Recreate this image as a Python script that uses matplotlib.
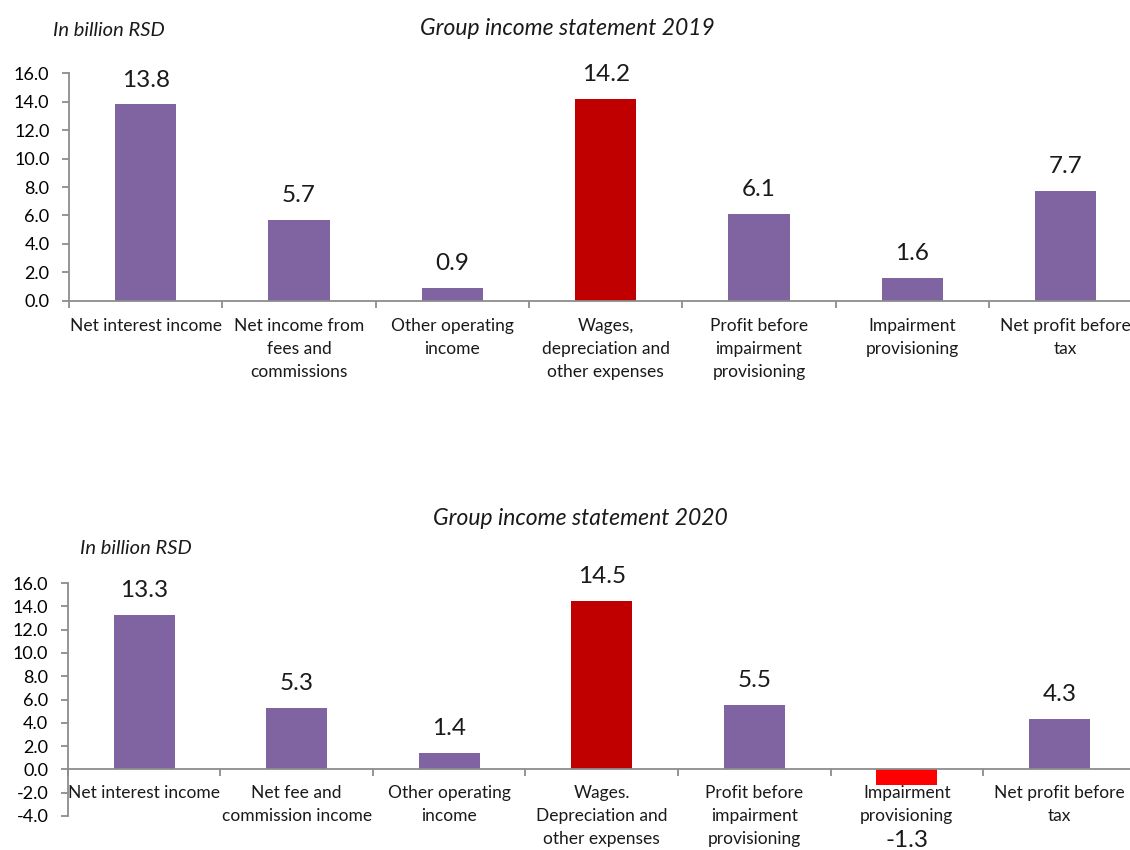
import matplotlib.pyplot as plt

plt.rcParams['font.family'] = ['Lato', 'DejaVu Sans']
plt.rcParams['text.color'] = '#1a1a1a'

PURPLE = '#8064A2'
DARK_RED = '#C00000'
RED = '#FF0000'
GREY = '#8c8c8c'

labels_2019 = ["Net interest income", "Net income from\nfees and\ncommissions",
               "Other operating\nincome", "Wages,\ndepreciation and\nother expenses",
               "Profit before\nimpairment\nprovisioning", "Impairment\nprovisioning",
               "Net profit before\ntax"]
values_2019 = [13.8, 5.7, 0.9, 14.2, 6.1, 1.6, 7.7]
colors_2019 = [PURPLE, PURPLE, PURPLE, DARK_RED, PURPLE, PURPLE, PURPLE]

labels_2020 = ["Net interest income", "Net fee and\ncommission income",
               "Other operating\nincome", "Wages.\nDepreciation and\nother expenses",
               "Profit before\nimpairment\nprovisioning", "Impairment\nprovisioning",
               "Net profit before\ntax"]
values_2020 = [13.3, 5.3, 1.4, 14.5, 5.5, -1.3, 4.3]
colors_2020 = [PURPLE, PURPLE, PURPLE, DARK_RED, PURPLE, RED, PURPLE]

yticks_2019 = [0, 2, 4, 6, 8, 10, 12, 14, 16]
yticks_2020 = [-4, -2, 0, 2, 4, 6, 8, 10, 12, 14, 16]


def draw_panel(ax, labels, values, colors, yticks, neg_offset=-36, pad=9):
    n = len(values)
    x = list(range(n))
    ax.bar(x, values, width=0.4, color=colors, zorder=2)
    ax.set_xlim(-0.5, n - 0.5)
    ax.set_ylim(yticks[0], yticks[-1])

    for xi, v in zip(x, values):
        off = 10 if v >= 0 else neg_offset
        ax.annotate(f"{v:.1f}", (xi, v), xytext=(0, off), textcoords='offset points',
                    ha='center', va='bottom' if v >= 0 else 'top', fontsize=17.5)

    # category names hang just under the zero line
    for xi, lab in zip(x, labels):
        ax.annotate(lab, (xi, 0), xytext=(0, -pad), textcoords='offset points',
                    ha='center', va='top', fontsize=12.5, linespacing=1.55,
                    annotation_clip=False)

    # tick marks only at the category boundaries
    ax.set_xticks([i - 0.5 for i in range(n + 1)])
    ax.set_xticklabels([])
    ax.tick_params(axis='x', length=5, width=1.3, color=GREY, direction='out')

    ax.set_yticks(yticks)
    ax.set_yticklabels([f"{t:.1f}" for t in yticks])
    ax.tick_params(axis='y', length=5, width=1.3, color=GREY, pad=9, labelsize=13)

    for s in ('top', 'right'):
        ax.spines[s].set_visible(False)
    for s in ('left', 'bottom'):
        ax.spines[s].set_color(GREY)
        ax.spines[s].set_linewidth(1.3)
    ax.spines['bottom'].set_position(('data', 0))
    ax.spines['bottom'].set_zorder(3)


fig = plt.figure(figsize=(11.3, 8.5), dpi=100)

ax1 = fig.add_axes([0.061, 0.646, 0.950, 0.268])
draw_panel(ax1, labels_2019, values_2019, colors_2019, yticks_2019, pad=12)
fig.text(0.502, 0.967, "Group income statement 2019", ha='center', va='center',
         fontsize=16.5, style='italic')
fig.text(0.047, 0.964, "In billion RSD", ha='left', va='center', fontsize=14.5, style='italic')

ax2 = fig.add_axes([0.060, 0.040, 0.945, 0.274])
draw_panel(ax2, labels_2020, values_2020, colors_2020, yticks_2020, neg_offset=-33, pad=11)
fig.text(0.514, 0.390, "Group income statement 2020", ha='center', va='center',
         fontsize=16.5, style='italic')
fig.text(0.071, 0.355, "In billion RSD", ha='left', va='center', fontsize=14.5, style='italic')

fig.savefig('out.png', dpi=100)
